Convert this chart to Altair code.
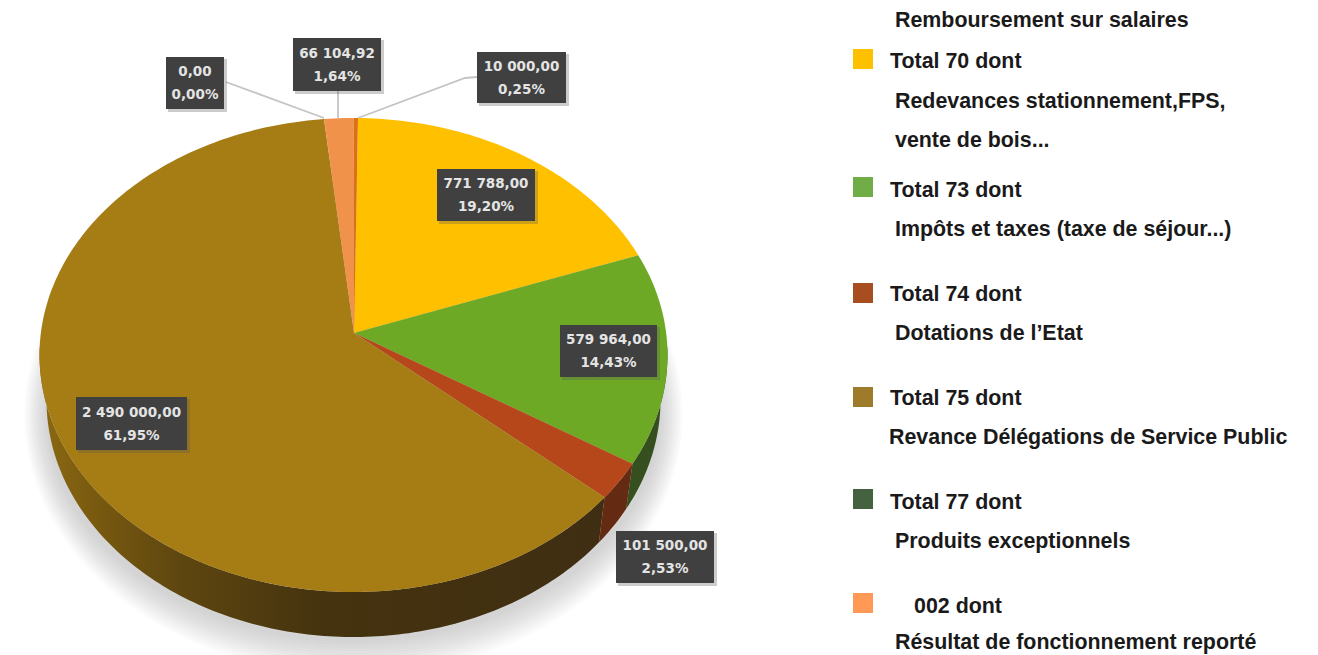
import math
import altair as alt
import pandas as pd

# ---- data
codes = ["70", "73", "74", "75", "76", "002", "77"]
values = [771788.00, 579964.00, 101500.00, 2490000.00, 0.00, 66104.92, 10000.00]
value_labels = ["771 788,00", "579 964,00", "101 500,00", "2 490 000,00", "0,00", "66 104,92", "10 000,00"]
pct_labels = ["19,20%", "14,43%", "2,53%", "61,95%", "0,00%", "1,64%", "0,25%"]
top_colors = ["#FFC000", "#6EA925", "#B5471A", "#A67C14", "#A67C14", "#F0924A", "#DE6F12"]
box_left = [437, 560, 616, 76, 166, 293, 477]
box_right = [535, 657, 714, 187, 224, 381, 566]
box_top = [169, 325, 531, 397, 57, 38, 52]
box_bottom = [221, 377, 583, 450, 109, 91, 103]

legend_colors = ["#FFC000", "#70AD47", "#A84D20", "#9E7B2B", "#44623F", "#FF9955"]
legend_tops = [49, 177, 283, 387, 489, 593]

legend_x = [895, 890, 895, 895, 890, 895, 890, 895, 890, 889, 890, 895, 914, 895]
legend_y = [27, 68, 108, 147, 197, 236, 301, 340, 405, 444, 509, 548, 613, 649]
legend_text = [
    "Remboursement sur salaires",
    "Total 70 dont",
    "Redevances stationnement,FPS,",
    "vente de bois...",
    "Total 73 dont",
    "Impôts et taxes (taxe de séjour...)",
    "Total 74 dont",
    "Dotations de l’Etat",
    "Total 75 dont",
    "Revance Délégations de Service Public",
    "Total 77 dont",
    "Produits exceptionnels",
    "002 dont",
    "Résultat de fonctionnement reporté",
]

leader_id = ["a", "a", "b", "b", "c", "c", "c"]
leader_x = [226, 324, 338, 338, 477, 465, 358]
leader_y = [82, 118, 91, 118, 77, 78, 118]

# ---- pie geometry
CX, CY, RX, RY = 353.5, 355.0, 314.0, 237.0
APEX = (354.0, 333.0)
DEPTH_CY, DEPTH_RX = 400.0, 307.0
PERSP = 0.0466
START = 0.9


def rim_angle(theta):
    z = complex(math.cos(math.radians(theta)), math.sin(math.radians(theta)))
    w = (z + PERSP) / (1 + PERSP * z)
    a = math.degrees(math.atan2(w.imag, w.real))
    k = round((theta - a) / 360.0)
    return a + 360.0 * k


def ell(t, cy=CY, rx=RX, ry=RY):
    r = math.radians(t)
    return [CX + rx * math.sin(r), cy - ry * math.cos(r)]


def arc_pts(t0, t1, cy=CY, rx=RX, ry=RY):
    n = max(2, int(abs(t1 - t0)) + 2)
    return [ell(t0 + (t1 - t0) * i / (n - 1), cy, rx, ry) for i in range(n)]


def feature(coords, color):
    ring = coords + [coords[0]]
    return {
        "type": "Feature",
        "geometry": {"type": "Polygon", "coordinates": [ring]},
        "properties": {"color": color},
    }


total = sum(values)
edges = [START]
for v in values:
    edges.append(edges[-1] + v / total * 360.0)
rim_edges = [rim_angle(e) for e in edges]

top_features = []
for i, v in enumerate(values):
    if v <= 0:
        continue
    pts = [list(APEX)] + arc_pts(rim_edges[i], rim_edges[i + 1])
    top_features.append(feature(pts, top_colors[i]))


def wall(t0, t1, color):
    return feature(arc_pts(t0, t1) + arc_pts(t1, t0, DEPTH_CY, DEPTH_RX, RY), color)


t_green0, t_green1, t_red1 = 88.0, rim_edges[2], rim_edges[3]
side_features = [
    wall(t_green0, t_green1, "#35501E"),
    wall(t_green1, t_red1, "#642A12"),
]
brown_wall = [wall(t_red1, 272.0, "brown")]

shadow_rx = [329, 327, 325, 323, 321, 319, 317, 315, 313, 311, 309, 307]
shadow_ry = [260, 257, 254, 251, 248, 245, 242, 239, 236, 233, 230, 227]
shadow_features = [
    feature(arc_pts(0, 359, 415.0, a, b), "#808080") for a, b in zip(shadow_rx, shadow_ry)
]

# ---- scales
X = alt.Scale(domain=[8, 1310], nice=False, zero=False)
Y = alt.Scale(domain=[8, 655], reverse=True, nice=False, zero=False)
proj = alt.Projection(type="identity", scale=1, translate=[-8, -8])


def px(f):
    return alt.X(f + ":Q", scale=X, axis=None)


def py(f):
    return alt.Y(f + ":Q", scale=Y, axis=None)


shadow = alt.Chart(alt.Data(values=shadow_features)).mark_geoshape(
    fill="#808080", fillOpacity=0.035, stroke=None
).project(**proj.to_dict())

brown_side = alt.Chart(alt.Data(values=brown_wall)).mark_geoshape(
    fill=alt.Gradient(
        gradient="linear", x1=0, x2=1, y1=0, y2=0,
        stops=[
            alt.GradientStop(offset=0.0, color="#8C6A12"),
            alt.GradientStop(offset=0.1, color="#78590F"),
            alt.GradientStop(offset=0.25, color="#5E4610"),
            alt.GradientStop(offset=0.5, color="#45330F"),
            alt.GradientStop(offset=1.0, color="#3F2E12"),
        ],
    ),
    stroke=None,
).project(**proj.to_dict())

sides = alt.Chart(alt.Data(values=side_features)).mark_geoshape(stroke=None).encode(
    fill=alt.Fill("properties.color:N", scale=None, legend=None)
).project(**proj.to_dict())

tops = alt.Chart(alt.Data(values=top_features)).mark_geoshape(stroke=None).encode(
    fill=alt.Fill("properties.color:N", scale=None, legend=None)
).project(**proj.to_dict())

leaders = alt.Chart(pd.DataFrame({"id": leader_id, "x": leader_x, "y": leader_y})).mark_line(
    color="#C4C4C4", strokeWidth=1.8
).encode(x=px("x"), y=py("y"), detail="id:N", order=alt.Order("rank:Q")).transform_window(
    rank="row_number()", groupby=["id"]
)

boxes_df = pd.DataFrame({
    "l": box_left, "r": box_right, "t": box_top, "b": box_bottom,
    "value": value_labels, "pct": pct_labels,
})
boxes_df["cx"] = (boxes_df.l + boxes_df.r) / 2
boxes_df["y1"] = (boxes_df.t + boxes_df.b) / 2 - 11
boxes_df["y2"] = (boxes_df.t + boxes_df.b) / 2 + 12
boxes_df["ls"] = boxes_df.l + 2
boxes_df["rs"] = boxes_df.r + 3
boxes_df["ts"] = boxes_df.t + 2
boxes_df["bs"] = boxes_df.b + 3

box_shadow = alt.Chart(boxes_df).mark_rect(color="#555555", opacity=0.3).encode(
    x=px("ls"), x2="rs:Q", y=py("ts"), y2="bs:Q"
)
box_rect = alt.Chart(boxes_df).mark_rect(color="#404040").encode(
    x=px("l"), x2="r:Q", y=py("t"), y2="b:Q"
)
label_style = dict(font="DejaVu Sans", fontSize=13.5, fontWeight="bold", color="#E4E4E4",
                   align="center", baseline="middle")
line1 = alt.Chart(boxes_df).mark_text(**label_style).encode(x=px("cx"), y=py("y1"), text="value:N")
line2 = alt.Chart(boxes_df).mark_text(**label_style).encode(x=px("cx"), y=py("y2"), text="pct:N")

sq_df = pd.DataFrame({"color": legend_colors, "t": legend_tops})
sq_df["b"] = sq_df.t + 20
sq_df["l"] = 853
sq_df["r"] = 873
squares = alt.Chart(sq_df).mark_rect().encode(
    x=px("l"), x2="r:Q", y=py("t"), y2="b:Q",
    fill=alt.Fill("color:N", scale=None, legend=None),
)

legend_df = pd.DataFrame({"x": legend_x, "y": legend_y, "text": legend_text})
legend_txt = alt.Chart(legend_df).mark_text(
    font="Liberation Sans", fontSize=21.4, fontWeight="bold", color="#1a1a1a",
    align="left", baseline="alphabetic",
).encode(x=px("x"), y=py("y"), text="text:N")

chart = alt.layer(
    shadow, brown_side, sides, tops, leaders, box_shadow, box_rect, line1, line2, squares, legend_txt
).properties(
    width=1302, height=647, padding=0, autosize=alt.AutoSizeParams(type="none"), background="white"
).configure_view(stroke=None)

chart.save("out.html", embed_options={"renderer": "svg", "actions": False})
